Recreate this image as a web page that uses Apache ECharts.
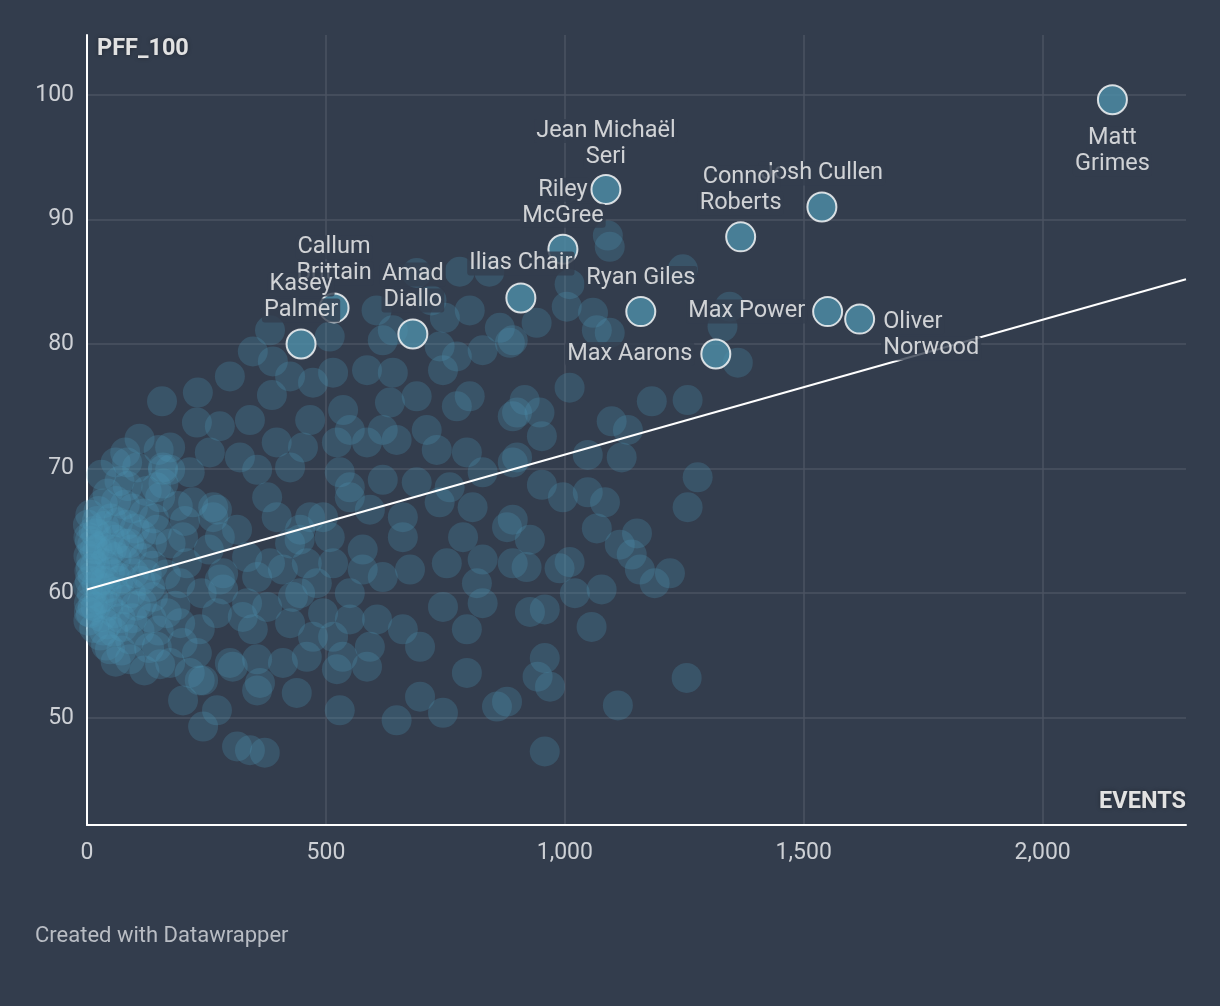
<!DOCTYPE html>
<html>
<head>
<meta charset="utf-8">
<script src="https://cdn.jsdelivr.net/npm/echarts@6/dist/echarts.min.js"></script>
<style>
html,body{margin:0;padding:0;background:#333d4d;}
#chart{width:1220px;height:1006px;}
</style>
</head>
<body>
<div id="chart"></div>
<script>
// ---- DATA ----
const xTicks = [0, 500, 1000, 1500, 2000];
const yTicks = [50, 60, 70, 80, 90, 100];
const xRange = [0, 2300];
const yRange = [41.4, 104.8];

// highlighted players: name, EVENTS, PFF_100
const names = ['Matt Grimes','Jean Michaël Seri','Josh Cullen','Connor Roberts','Riley McGree','Ilias Chair','Callum Brittain','Kasey Palmer','Amad Diallo','Ryan Giles','Max Power','Oliver Norwood','Max Aarons'];
const namedEvents = [2146, 1086, 1538, 1368, 996, 908, 517, 448, 682, 1159, 1550, 1617, 1316];
const namedPff = [99.6, 92.4, 91.0, 88.6, 87.6, 83.7, 82.9, 80.0, 80.8, 82.6, 82.6, 82.0, 79.2];

// regression line end points [events, pff]
const trendLine = [[0, 60.3], [2300, 85.2]];

// all other players [events, pff]
const otherPlayers = [
[157,75.4],[232,76.1],[299,77.4],[347,79.4],[389,78.6],[387,75.9],[425,77.4],[473,76.9],[515,77.7],[508,80.6],
[586,77.9],[640,77.7],[690,75.8],[745,77.9],[774,79.0],[828,79.5],[885,80.1],[738,79.8],[619,80.3],[536,74.7],
[634,75.3],[711,73.1],[774,75.0],[801,75.8],[900,74.5],[230,73.7],[278,73.4],[341,73.9],[467,73.9],[550,73.1],
[619,73.1],[174,71.7],[257,71.3],[320,70.9],[397,72.1],[452,71.7],[523,72.1],[586,72.1],[648,72.3],[732,71.5],
[795,71.3],[891,70.5],[159,70.1],[215,69.7],[356,69.9],[425,70.1],[529,69.7],[619,69.1],[690,68.9],[759,68.5],
[828,69.7],[153,67.7],[272,66.7],[377,67.7],[467,66.1],[550,67.7],[592,66.7],[661,66.1],[738,67.3],[807,66.9],
[879,65.3],[146,65.1],[201,64.5],[314,65.1],[425,64.0],[508,64.5],[577,63.5],[661,64.5],[787,64.5],[828,62.7],
[753,62.4],[891,62.4],[138,59.7],[195,60.8],[285,61.6],[356,61.3],[410,61.9],[481,60.8],[550,60.0],[619,61.3],
[676,61.9],[745,58.9],[816,60.8],[828,59.2],[195,57.6],[272,58.4],[347,57.1],[425,57.6],[473,56.5],[515,56.5],
[592,55.7],[661,57.1],[697,55.7],[795,57.1],[146,55.7],[230,55.2],[299,54.4],[356,54.7],[410,54.4],[460,54.9],
[523,53.9],[586,54.1],[243,53.0],[356,52.2],[439,52.0],[529,50.6],[201,51.4],[272,50.6],[243,49.3],[648,49.8],
[697,51.7],[745,50.4],[795,53.6],[858,50.9],[314,47.7],[341,47.4],[372,47.2],
[1090,88.7],[1094,87.8],[1004,83.0],[1059,82.5],[1067,81.1],[1094,80.9],[941,81.7],[891,80.3],[1247,86.0],[1345,83.0],
[1330,81.4],[1362,78.5],[1010,76.5],[916,75.5],[947,74.5],[891,74.2],[952,72.6],[1182,75.4],[1257,75.5],[1098,73.8],
[1132,73.1],[1048,71.1],[1119,70.9],[900,70.9],[1278,69.3],[1257,66.9],[952,68.7],[996,67.7],[1048,68.1],[1084,67.3],
[891,65.9],[927,64.3],[1067,65.2],[1151,64.8],[1115,63.9],[1140,63.1],[1157,61.9],[1220,61.6],[1188,60.8],[920,62.1],
[989,62.0],[1010,62.5],[1021,60.0],[1077,60.3],[927,58.5],[958,58.7],[1056,57.3],[958,54.8],[943,53.3],[969,52.5],
[879,51.3],[1111,51.0],[1255,53.2],[958,47.3],
[383,81.1],[606,82.7],[640,81.1],[690,85.7],[780,85.8],[842,85.8],[1010,84.8],[749,82.1],[864,81.3],[721,83.5],[801,82.7],
[3,57.8],[4,59.2],[2,60.5],[5,61.8],[3,63.0],[6,64.2],[2,65.5],[8,58.4],[10,60.0],[12,61.4],
[9,62.7],[11,63.9],[14,65.0],[7,66.3],[15,57.2],[18,58.9],[20,60.7],[17,62.2],[22,63.5],[19,64.8],
[24,66.6],[28,56.6],[30,58.1],[32,59.6],[27,61.0],[35,62.4],[31,63.8],[36,65.4],[33,67.2],[40,55.8],
[42,57.5],[45,59.0],[41,60.4],[48,61.7],[44,63.1],[47,64.6],[50,66.0],[43,68.0],[55,56.9],[58,58.4],
[60,60.1],[57,61.5],[62,62.9],[59,64.3],[65,65.7],[61,67.4],[68,69.0],[72,55.4],[75,57.3],[78,59.5],
[74,61.2],[80,62.6],[77,64.0],[83,65.5],[79,67.1],[85,68.6],[90,56.3],[95,58.0],[92,60.0],[98,61.6],
[94,63.5],[100,65.2],[96,66.8],[105,70.1],[110,57.0],[115,59.2],[112,61.0],[118,62.8],[114,64.7],[120,66.4],
[125,68.2],[130,55.6],[135,58.0],[132,60.5],[138,62.2],[136,64.0],[140,66.0],[145,68.5],[150,71.5],
[60,70.5],[80,71.3],[110,72.4],[30,69.5],[90,54.7],[153,54.3],[48,55.5],
[84,70.5],[159,69.9],[264,66.9],[550,68.5],[278,61.1],[335,59.2],[236,53.0],[305,54.1],[362,52.8],[535,54.9],[446,60.0],[445,64.3],
[174,69.9],[222,67.3],[264,66.1],[209,62.4],[285,60.3],[167,58.4],[236,57.1],[326,58.1],[215,53.6],[174,54.4],
[377,58.9],[431,59.7],[397,66.1],[446,65.1],[494,66.1],[278,64.5],[335,62.9],[383,62.4],[460,62.4],[515,62.4],
[577,61.9],[494,58.4],[550,57.9],[607,57.9],
[160,68.8],[190,67.0],[175,64.0],[205,65.8],[165,61.5],[185,59.0],[150,57.0],[200,56.0],[240,60.0],[255,63.5],[120,53.8],[60,54.5],
[4,58.5],[6,61.0],[3,64.5],[8,62.0],[12,59.0],[16,63.5],[21,65.8],[25,59.5],[38,61.0],[52,63.5],[66,61.0],[88,64.0],[102,59.0],[125,61.5],[70,58.0],[35,57.0]
];

// ---- STYLE (label placement per highlighted player) ----
const labelPlacement = {
  'Matt Grimes':      {text:'Matt\nGrimes', position:'bottom', distance:10},
  'Jean Michaël Seri':{text:'Jean Michaël\nSeri', position:'top', distance:4},
  'Josh Cullen':      {text:'Josh Cullen', position:'top', distance:5, dx:5},
  'Connor Roberts':   {text:'Connor\nRoberts', position:'top', distance:5},
  'Riley McGree':     {text:'Riley\nMcGree', position:'top', distance:5},
  'Ilias Chair':      {text:'Ilias Chair', position:'top', distance:6},
  'Callum Brittain':  {text:'Callum\nBrittain', position:'top', distance:6, dx:-4},
  'Kasey Palmer':     {text:'Kasey\nPalmer', position:'top', distance:5},
  'Amad Diallo':      {text:'Amad\nDiallo', position:'top', distance:5},
  'Ryan Giles':       {text:'Ryan Giles', position:'top', distance:5},
  'Max Power':        {text:'Max Power', position:'left', distance:5},
  'Oliver Norwood':   {text:'Oliver\nNorwood', position:[37, 6], align:'left', verticalAlign:'top'},
  'Max Aarons':       {text:'Max Aarons', position:'left', distance:6}
};

const BG = '#333d4d';
const FONT = 'Roboto, "Noto Sans", sans-serif';

const highlightData = names.map((n, i) => {
  const p = labelPlacement[n];
  const lab = {
    show: true,
    formatter: p.text.split('\n').map(s => '{t|' + s + '}').join('\n'),
    position: p.position,
    align: p.align || (p.position === 'right' ? 'left' : (p.position === 'left' ? 'right' : 'center'))
  };
  if (p.distance !== undefined) lab.distance = p.distance;
  if (p.verticalAlign) lab.verticalAlign = p.verticalAlign;
  if (p.dx) lab.offset = [p.dx, 0];
  return { name: n, value: [namedEvents[i], namedPff[i]], label: lab };
});

const chart = echarts.init(document.getElementById('chart'), null, {renderer: 'canvas'});
chart.setOption({
  backgroundColor: BG,
  animation: false,
  textStyle: {fontFamily: FONT},
  grid: {left: 87, right: 34, top: 35, bottom: 181},
  xAxis: {
    type: 'value', min: xRange[0], max: xRange[1],
    axisLine: {show: true, lineStyle: {color: '#ffffff', width: 2}},
    axisTick: {show: false, customValues: xTicks},
    axisLabel: {customValues: xTicks, color: '#cdd0d5', fontSize: 23, margin: 17, fontFamily: FONT,
      formatter: v => Number(v).toLocaleString('en-US')},
    splitLine: {show: true, lineStyle: {color: '#4b5362', width: 1.5}}
  },
  yAxis: {
    type: 'value', min: yRange[0], max: yRange[1],
    axisLine: {show: true, lineStyle: {color: '#ffffff', width: 2}},
    axisTick: {show: false, customValues: yTicks},
    axisLabel: {customValues: yTicks, color: '#cdd0d5', fontSize: 23, margin: 13, fontFamily: FONT},
    splitLine: {show: true, lineStyle: {color: '#4b5362', width: 1.5}}
  },
  series: [
    {
      type: 'scatter', name: 'players', clip: false, z: 2,
      symbolSize: 30,
      itemStyle: {color: '#4d96b6', opacity: 0.26},
      emphasis: {disabled: true},
      data: otherPlayers
    },
    {
      type: 'line', name: 'trend', z: 3, symbol: 'none',
      lineStyle: {color: '#ffffff', width: 2},
      emphasis: {disabled: true},
      data: trendLine
    },
    {
      type: 'scatter', name: 'highlight', clip: false, z: 4,
      symbolSize: 29,
      itemStyle: {color: '#4d8fa9', borderColor: '#ffffff', borderWidth: 2},
      label: {
        color: '#f7f7f7', fontSize: 23.5, lineHeight: 26, fontFamily: FONT,
        rich: {
          t: {color: '#f7f7f7', fontSize: 23.5, lineHeight: 26, fontFamily: FONT,
              backgroundColor: BG, padding: [0, 2], borderRadius: 3}
        }
      },
      labelLayout: {hideOverlap: false},
      emphasis: {disabled: true},
      data: highlightData
    }
  ],
  graphic: [
    {type: 'text', left: 97, top: 37, z: 10,
      style: {text: 'PFF_100', fill: '#e2e2e2', font: 'bold 23.5px ' + FONT,
        textShadowColor: 'rgba(0,0,0,0.35)', textShadowBlur: 4}},
    {type: 'text', right: 34, top: 790, z: 10,
      style: {text: 'EVENTS', fill: '#e2e2e2', font: 'bold 23.5px ' + FONT, textAlign: 'right',
        textShadowColor: 'rgba(0,0,0,0.35)', textShadowBlur: 4}},
    {type: 'text', left: 35, top: 925, z: 10,
      style: {text: 'Created with Datawrapper', fill: '#b9bdc4', font: '22px ' + FONT}}
  ]
});
</script>
</body>
</html>
